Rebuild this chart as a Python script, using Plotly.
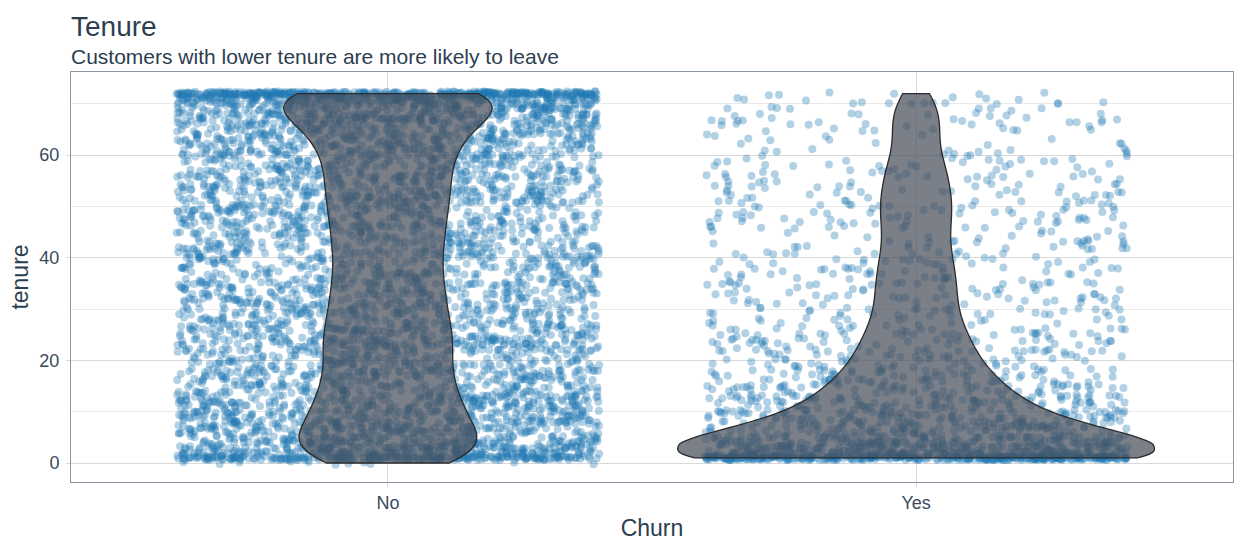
import numpy as np
import plotly.graph_objects as go

# ---------------- data ----------------
categories = ["No", "Yes"]
tenure_values = list(range(0, 73))
# number of customers at each tenure value (0..72), by churn group
churn_no_counts = [
    11, 233, 115, 106, 93, 69, 70, 80, 81, 73,
    71, 68, 79, 71, 52, 62, 52, 61, 73, 54,
    53, 45, 63, 72, 71, 56, 64, 61, 45, 57,
    56, 54, 53, 52, 53, 68, 40, 50, 46, 43,
    53, 58, 53, 51, 43, 55, 62, 54, 51, 52,
    54, 56, 70, 58, 55, 55, 66, 57, 56, 48,
    68, 68, 65, 68, 76, 67, 76, 88, 91, 87,
    108, 164, 356,
]
churn_yes_counts = [
    0, 380, 123, 94, 83, 64, 40, 51, 42, 46,
    45, 31, 38, 38, 24, 37, 28, 26, 24, 19,
    18, 18, 27, 13, 23, 23, 15, 11, 12, 15,
    16, 11, 16, 12, 12, 20, 10, 15, 13, 13,
    11, 12, 12, 14, 8, 6, 12, 14, 13, 14,
    14, 12, 10, 12, 13, 9, 14, 8, 11, 12,
    8, 8, 5, 4, 4, 9, 13, 10, 9, 8,
    11, 6, 6,
]
y_tick_values = [0, 20, 40, 60]
y_minor_values = [10, 30, 50, 70]

TITLE = "Tenure"
SUBTITLE = "Customers with lower tenure are more likely to leave"
X_TITLE = "Churn"
Y_TITLE = "tenure"

# ---------------- styling ----------------
FONT = "Liberation Sans, Arial, sans-serif"
TXT = "#2c3e50"
TICK_TXT = "#3a4a5b"
GRID = "#d9d9d9"
MINOR_GRID = "#e9e9e9"
BORDER = "#8a96a3"
POINT_COLOR = "#1f77b4"
VIOLIN_FILL = "rgba(70,78,90,0.72)"
VIOLIN_LINE = "#2b2b2b"
X_RANGE = [-0.6, 1.6]
Y_RANGE = [-3.7, 76.2]


def expand(counts):
    return np.repeat(np.array(tenure_values, dtype=float), counts)


groups = {"No": expand(churn_no_counts), "Yes": expand(churn_yes_counts)}

# deterministic hash-based jitter offsets (positions only, not data)
JIT_W, JIT_H = 0.4, 0.4


def hash01(k, a, b):
    v = np.sin(k * a + b) * 43758.5453
    return v - np.floor(v)


fig = go.Figure()

# jittered points on the base axes (drawn first / underneath)
for i, cat in enumerate(categories):
    y = groups[cat]
    k = np.arange(len(y), dtype=float) + 1000.0 * (i + 1)
    jx = (hash01(k, 12.9898, 78.233) - 0.5) * 2 * JIT_W
    jy = (hash01(k, 39.3467, 11.135) - 0.5) * 2 * JIT_H
    fig.add_trace(go.Scatter(
        x=i + jx, y=y + jy, mode="markers",
        marker=dict(color=POINT_COLOR, size=8, opacity=0.34, line=dict(width=0)),
        hoverinfo="skip", showlegend=False, xaxis="x", yaxis="y",
    ))


def nrd0(v):
    sd = np.std(v, ddof=1)
    q75, q25 = np.percentile(v, [75, 25])
    return 0.9 * min(sd, (q75 - q25) / 1.34) * len(v) ** (-0.2)


# violins on overlaying axes so they are drawn on top of the points
for i, cat in enumerate(categories):
    y = groups[cat]
    fig.add_trace(go.Violin(
        x=np.full(len(y), i), y=y, name=cat,
        scalegroup="all", scalemode="width",
        spanmode="hard", bandwidth=nrd0(y),
        points=False, box_visible=False, meanline_visible=False,
        fillcolor=VIOLIN_FILL, line=dict(color=VIOLIN_LINE, width=1.3),
        hoverinfo="skip", showlegend=False, xaxis="x2", yaxis="y2",
    ))

fig.update_layout(
    width=1242, height=541,
    margin=dict(l=71, r=9, t=72, b=59),
    paper_bgcolor="white", plot_bgcolor="white",
    violinmode="overlay", violingap=0.1, violingroupgap=0,
    font=dict(family=FONT, color=TXT),
    showlegend=False,
    annotations=[
        dict(text=TITLE, xref="paper", yref="paper", x=0, y=1.111, xshift=-2,
             xanchor="left", yanchor="middle", showarrow=False,
             font=dict(size=28, color=TXT, family=FONT)),
        dict(text=SUBTITLE, xref="paper", yref="paper", x=0, y=1.039, xshift=-2,
             xanchor="left", yanchor="middle", showarrow=False,
             font=dict(size=21, color=TXT, family=FONT)),
    ],
    xaxis=dict(
        range=X_RANGE, tickmode="array", tickvals=[0, 1], ticktext=categories,
        showgrid=True, gridcolor=GRID, gridwidth=1, zeroline=False,
        ticks="outside", ticklen=4, tickcolor=GRID, ticklabelstandoff=0,
        showline=True, linecolor=BORDER, linewidth=1, mirror=True,
        automargin=False,
        tickfont=dict(size=18, color=TICK_TXT, family=FONT),
        title=dict(text=X_TITLE, font=dict(size=23, color=TXT, family=FONT), standoff=8),
    ),
    yaxis=dict(
        range=Y_RANGE, tickmode="array", tickvals=y_tick_values,
        showgrid=True, gridcolor=GRID, gridwidth=1, zeroline=False,
        ticks="outside", ticklen=4, tickcolor=GRID, ticklabelstandoff=3,
        minor=dict(tickmode="array", tickvals=y_minor_values, showgrid=True,
                   gridcolor=MINOR_GRID, gridwidth=1, ticks=""),
        showline=True, linecolor=BORDER, linewidth=1, mirror=True,
        automargin=False,
        tickfont=dict(size=18, color=TICK_TXT, family=FONT),
        title=dict(text=Y_TITLE, font=dict(size=23, color=TXT, family=FONT), standoff=4),
    ),
    xaxis2=dict(range=X_RANGE, overlaying="x", visible=False, automargin=False),
    yaxis2=dict(range=Y_RANGE, overlaying="y", visible=False, automargin=False),
)

fig.write_html(
    "out.html",
    config={"displayModeBar": False},
    post_script="document.body.style.margin='0';document.body.style.overflow='hidden';",
)
